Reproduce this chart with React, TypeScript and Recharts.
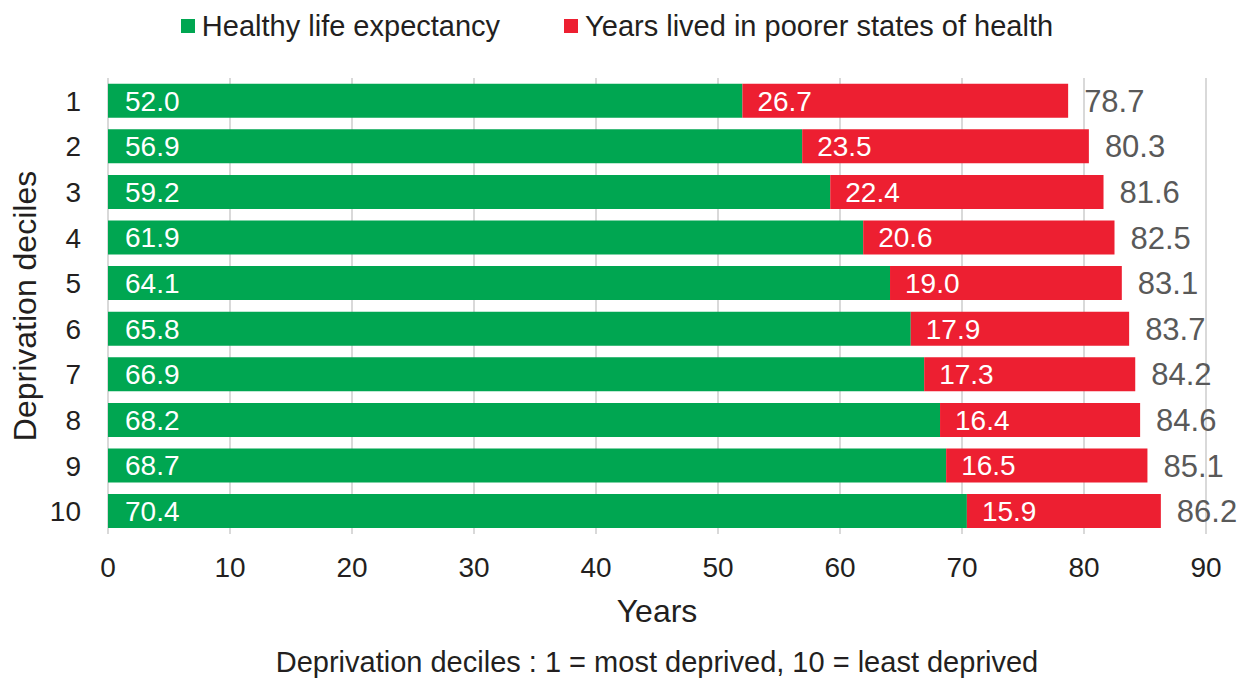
import React from 'react';
import { BarChart, Bar, XAxis, YAxis, CartesianGrid, Legend, LabelList, Label } from 'recharts';

const deciles = ['1', '2', '3', '4', '5', '6', '7', '8', '9', '10'];
const healthy = [52.0, 56.9, 59.2, 61.9, 64.1, 65.8, 66.9, 68.2, 68.7, 70.4];
const poorer = [26.7, 23.5, 22.4, 20.6, 19.0, 17.9, 17.3, 16.4, 16.5, 15.9];
const totals = [78.7, 80.3, 81.6, 82.5, 83.1, 83.7, 84.2, 84.6, 85.1, 86.2];
const xTicks = [0, 10, 20, 30, 40, 50, 60, 70, 80, 90];

const seriesNames = ['Healthy life expectancy', 'Years lived in poorer states of health'];
const GREEN = '#00a651';
const RED = '#ed1f31';
const FONT = '"Liberation Sans", Arial, Helvetica, sans-serif';
const TEXT = '#231f20';

const data = deciles.map((d, i) => ({
  decile: d,
  healthy: healthy[i],
  poorer: poorer[i],
  total: totals[i],
}));

const fmt = (v: any) => Number(v).toFixed(1);

const LegendContent = () => (
  <div
    style={{
      display: 'flex',
      justifyContent: 'center',
      alignItems: 'center',
      height: 40,
      fontFamily: FONT,
      fontSize: 29,
      color: TEXT,
      gap: 64,
      paddingRight: 14,
    }}
  >
    {[GREEN, RED].map((c, i) => (
      <div key={i} style={{ display: 'flex', alignItems: 'center' }}>
        <span style={{ display: 'inline-block', width: 14, height: 14, background: c, marginRight: 7 }} />
        <span>{seriesNames[i]}</span>
      </div>
    ))}
  </div>
);

const XLabelContent = (props: any) => {
  const vb = props.viewBox || {};
  const cx = 657;
  const top = vb.y ?? 534;
  return (
    <g>
      <text x={cx} y={top + 88} textAnchor="middle" fontFamily={FONT} fontSize={32} fill={TEXT}>
        Years
      </text>
      <text x={cx} y={top + 138} textAnchor="middle" fontFamily={FONT} fontSize={29} fill={TEXT}>
        Deprivation deciles : 1 = most deprived, 10 = least deprived
      </text>
    </g>
  );
};

const YLabelContent = (props: any) => {
  const vb = props.viewBox || {};
  const cy = (vb.y ?? 78) + (vb.height ?? 456) / 2;
  const cx = 36;
  return (
    <text
      x={cx}
      y={cy}
      transform={`rotate(-90, ${cx}, ${cy})`}
      textAnchor="middle"
      fontFamily={FONT}
      fontSize={32}
      fill={TEXT}
    >
      Deprivation deciles
    </text>
  );
};

export default function App() {
  return (
    <div style={{ position: 'absolute', left: 0, top: 0, width: 1248, height: 678, background: '#fff' }}>
      <BarChart
        width={1248}
        height={678}
        data={data}
        layout="vertical"
        margin={{ top: 38, right: 42, left: 0, bottom: 0 }}
        barCategoryGap="12.5%"
      >
        <CartesianGrid horizontal={false} vertical={true} stroke="#d9d9d9" strokeWidth={2} />
        <XAxis
          type="number"
          domain={[0, 90]}
          ticks={xTicks}
          interval={0}
          axisLine={false}
          tickLine={false}
          tickSize={0}
          tickMargin={23}
          height={144}
          tick={{ fontFamily: FONT, fontSize: 28, fill: TEXT }}
        >
          <Label content={XLabelContent} />
        </XAxis>
        <YAxis
          type="category"
          dataKey="decile"
          width={108}
          axisLine={false}
          tickLine={false}
          tickSize={0}
          tickMargin={27}
          interval={0}
          tick={{ fontFamily: FONT, fontSize: 28, fill: TEXT }}
        >
          <Label content={YLabelContent} />
        </YAxis>
        <Legend
          verticalAlign="top"
          align="center"
          content={LegendContent}
          wrapperStyle={{ top: 6, left: 0, width: 1248, height: 40 }}
        />
        <Bar dataKey="healthy" name={seriesNames[0]} stackId="a" fill={GREEN} isAnimationActive={false}>
          <LabelList
            dataKey="healthy"
            position="insideLeft"
            offset={17}
            formatter={fmt}
            fill="#ffffff"
            fontSize={28}
            fontFamily={FONT}
          />
        </Bar>
        <Bar dataKey="poorer" name={seriesNames[1]} stackId="a" fill={RED} isAnimationActive={false}>
          <LabelList
            dataKey="poorer"
            position="insideLeft"
            offset={15}
            formatter={fmt}
            fill="#ffffff"
            fontSize={28}
            fontFamily={FONT}
          />
          <LabelList
            dataKey="total"
            position="right"
            offset={16}
            formatter={fmt}
            fill="#595959"
            fontSize={31}
            fontFamily={FONT}
          />
        </Bar>
      </BarChart>
    </div>
  );
}
